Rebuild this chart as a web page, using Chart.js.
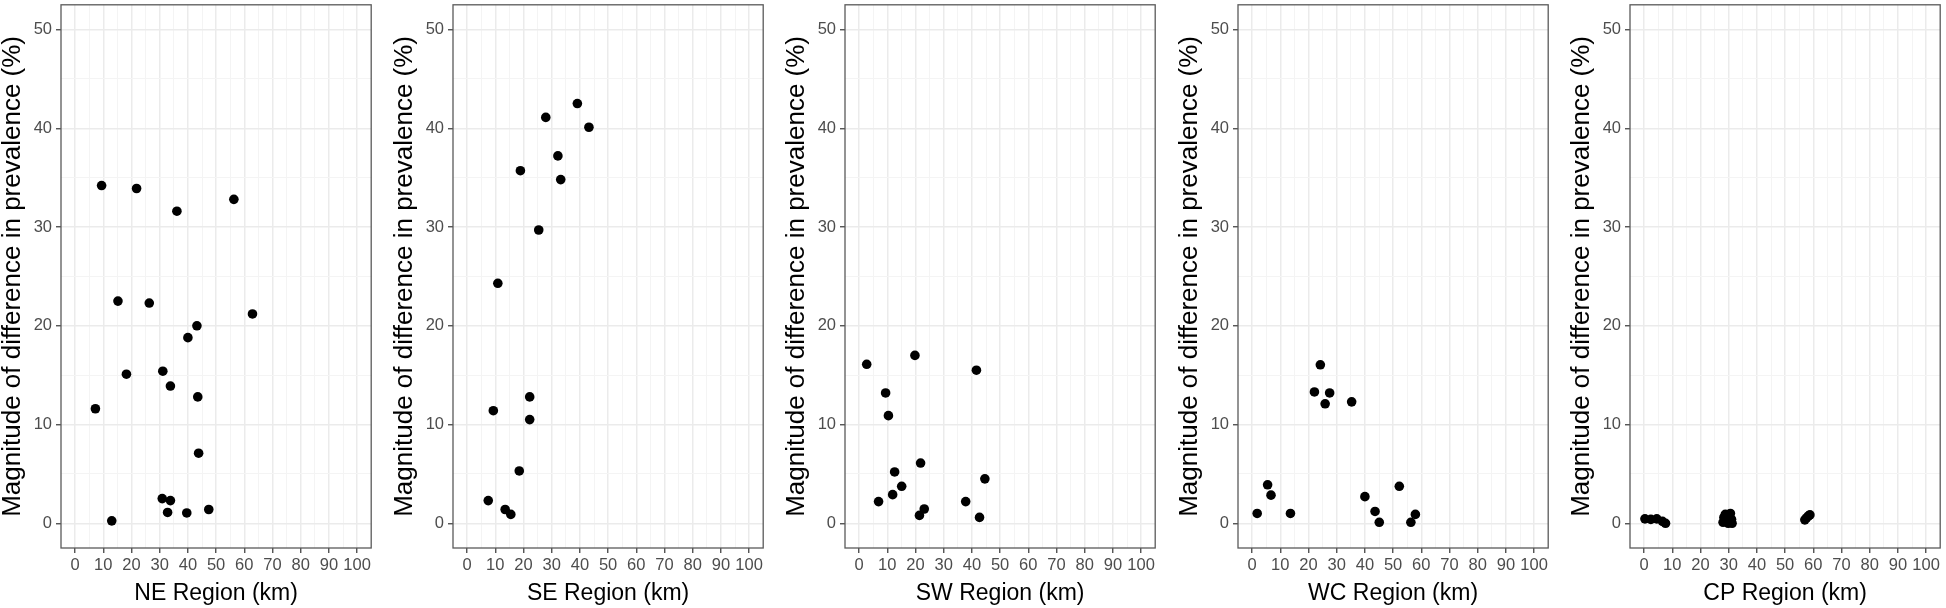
<!DOCTYPE html>
<html>
<head>
<meta charset="utf-8">
<script src="https://cdn.jsdelivr.net/npm/chart.js@4.4.1/dist/chart.umd.min.js"></script>
<style>
  html, body { margin: 0; padding: 0; background: #fff; }
  #wrap { position: relative; width: 1946px; height: 608px; overflow: hidden; }
  #wrap canvas { position: absolute; top: 0; }
</style>
</head>
<body>
<div id="wrap"></div>
<script>
// tick labels
const xTicks = [0, 10, 20, 30, 40, 50, 60, 70, 80, 90, 100];
const yTicks = [0, 10, 20, 30, 40, 50];

// regions
const regionNames = ['NE', 'SE', 'SW', 'WC', 'CP'];

// distance (km) / magnitude of difference in prevalence (%)
const neKm  = [9.4, 21.8, 36.1, 56.3, 15.2, 26.3, 62.9, 43.2, 40.0, 18.2, 31.1, 33.8, 43.5, 7.2, 43.8, 30.9, 33.8, 32.8, 39.6, 47.4, 13.0];
const nePct = [34.2, 33.9, 31.6, 32.8, 22.5, 22.3, 21.2, 20.0, 18.8, 15.1, 15.4, 13.9, 12.8, 11.6, 7.1, 2.5, 2.3, 1.1, 1.05, 1.4, 0.25];

const seKm  = [39.1, 27.9, 43.2, 32.2, 18.9, 33.2, 25.4, 10.9, 22.2, 9.3, 22.2, 18.5, 7.5, 13.5, 15.5];
const sePct = [42.5, 41.1, 40.1, 37.2, 35.7, 34.8, 29.7, 24.3, 12.8, 11.4, 10.5, 5.3, 2.3, 1.4, 0.9];

const swKm  = [2.7, 19.8, 41.6, 9.4, 10.4, 21.8, 12.6, 44.6, 15.1, 11.9, 6.9, 37.8, 23.1, 21.4, 42.7];
const swPct = [16.1, 17.0, 15.5, 13.2, 10.9, 6.1, 5.2, 4.5, 3.75, 2.9, 2.2, 2.2, 1.45, 0.8, 0.6];

const wcKm  = [24.2, 22.1, 27.5, 25.9, 35.3, 5.5, 6.7, 1.8, 13.6, 40.0, 52.2, 43.6, 45.1, 56.3, 57.9];
const wcPct = [16.05, 13.3, 13.2, 12.1, 12.3, 3.9, 2.85, 1.0, 1.0, 2.7, 3.75, 1.2, 0.1, 0.1, 0.9];

const cpKm  = [0.3, 2.4, 4.5, 6.5, 7.6, 28.0, 28.3, 28.8, 29.3, 29.8, 30.2, 30.6, 31.0, 31.2, 29.0, 30.5, 57.0, 57.6, 58.3, 58.8];
const cpPct = [0.45, 0.4, 0.45, 0.2, 0.0, 0.1, 0.6, 0.9, 0.3, 0.0, 0.7, 1.0, 0.4, 0.0, 0.5, 0.2, 0.35, 0.55, 0.75, 0.85];

const panelKm  = [neKm, seKm, swKm, wcKm, cpKm];
const panelPct = [nePct, sePct, swPct, wcPct, cpPct];

// layout
const canvasLefts = [0, 392, 784, 1177, 1569];
const axisW = 61, plotW = 312, padRight = 3, H = 608;

const minorX = xTicks.slice(0, -1).map(v => v + 5);
const minorY = yTicks.slice(0, -1).map(v => v + 5);

const MAJOR = '#ebebeb', MINOR = '#f4f4f4';
const FONT = '"Liberation Sans", Arial, sans-serif';

// draws the full panel box like theme_bw
const panelBorder = {
    id: 'panelBorder',
    afterDraw(chart) {
        const { ctx, chartArea: a } = chart;
        ctx.save();
        ctx.strokeStyle = '#5a5a5a';
        ctx.lineWidth = 1.3;
        ctx.strokeRect(a.left, a.top, a.right - a.left, a.bottom - a.top);
        ctx.restore();
    }
};

function isMajor(c) {
    return c.tick && c.tick.value % 10 === 0;
}

function gridOpts() {
    return {
        color: c => isMajor(c) ? MAJOR : MINOR,
        lineWidth: c => isMajor(c) ? 1.5 : 1,
        tickColor: c => isMajor(c) ? '#444' : 'rgba(0,0,0,0)',
        tickWidth: 1.3,
        tickLength: 5,
        drawTicks: true
    };
}

const wrap = document.getElementById('wrap');

regionNames.forEach((name, i) => {
    const cv = document.createElement('canvas');
    const w = axisW + plotW + padRight;
    cv.width = w;
    cv.height = H;
    cv.style.left = canvasLefts[i] + 'px';
    cv.style.width = w + 'px';
    cv.style.height = H + 'px';
    wrap.appendChild(cv);

    const pts = panelKm[i].map((x, k) => ({ x: x, y: panelPct[i][k] }));

    new Chart(cv, {
        type: 'scatter',
        data: {
            datasets: [{
                data: pts,
                backgroundColor: '#000',
                borderColor: '#000',
                borderWidth: 0,
                pointRadius: 4.8
            }]
        },
        options: {
            responsive: false,
            animation: false,
            events: [],
            layout: { padding: { top: 4, right: padRight, left: 0, bottom: 0 } },
            plugins: { legend: { display: false }, tooltip: { enabled: false } },
            scales: {
                x: {
                    type: 'linear',
                    min: -5,
                    max: 105,
                    afterBuildTicks: s => { s.ticks = xTicks.concat(minorX).sort((a, b) => a - b).map(v => ({ value: v })); },
                    afterFit: s => { s.height = 60; s.paddingLeft = 0; s.paddingRight = 0; },
                    grid: gridOpts(),
                    border: { display: false },
                    ticks: {
                        autoSkip: false,
                        maxRotation: 0,
                        padding: 3,
                        color: '#4d4d4d',
                        font: { family: FONT, size: 16.5 },
                        callback: v => (v % 10 === 0 ? v : '')
                    },
                    title: {
                        display: true,
                        text: name + ' Region (km)',
                        color: '#000',
                        padding: { top: 0, bottom: 1 },
                        font: { family: FONT, size: 23, lineHeight: 1.2 }
                    }
                },
                y: {
                    type: 'linear',
                    min: -2.5,
                    max: 52.5,
                    afterBuildTicks: s => { s.ticks = yTicks.concat(minorY).sort((a, b) => a - b).map(v => ({ value: v })); },
                    afterFit: s => { s.width = axisW; s.paddingTop = 0; s.paddingBottom = 0; },
                    grid: gridOpts(),
                    border: { display: false },
                    ticks: {
                        autoSkip: false,
                        padding: 4,
                        color: '#4d4d4d',
                        font: { family: FONT, size: 16.5 },
                        callback: v => (v % 10 === 0 ? v : '')
                    },
                    title: {
                        display: true,
                        text: 'Magnitude of difference in prevalence (%)',
                        color: '#000',
                        padding: { top: 0, bottom: 0 },
                        font: { family: FONT, size: 26, lineHeight: 1.0 }
                    }
                }
            }
        },
        plugins: [panelBorder]
    });
});
</script>
</body>
</html>
